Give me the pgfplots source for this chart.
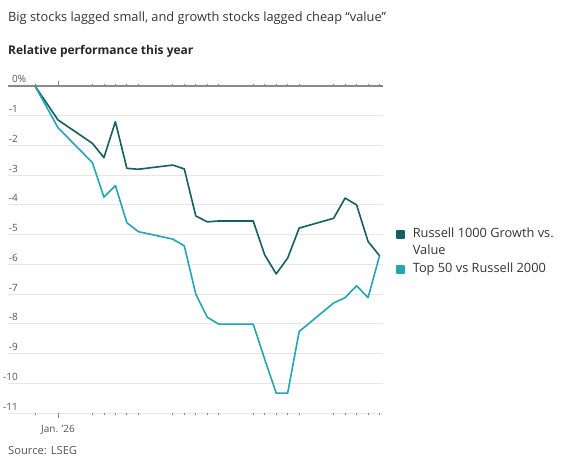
\documentclass[border=0pt]{standalone}
\usepackage{pgfplots}
\pgfplotsset{compat=1.18}
\usepackage{fontspec}
\setmainfont{Open Sans}
\definecolor{darkteal}{HTML}{135F61}
\definecolor{lightteal}{HTML}{22A6B5}
\definecolor{gridgray}{HTML}{E6E6E6}
\definecolor{zerogray}{HTML}{8A8A8A}
\definecolor{txtgray}{HTML}{555555}
\definecolor{titlegray}{HTML}{333333}
\begin{document}
\begin{tikzpicture}
\useasboundingbox (-8pt,-48pt) rectangle (554pt,413pt);
\begin{axis}[
  at={(0pt,0pt)}, anchor=south west,
  scale only axis, width=375pt, height=327pt,
  xmin=-2.35, xmax=30.3, ymin=-11, ymax=0,
  axis line style={draw=none},
  clip=false,
  ytick={-11,-10,-9,-8,-7,-6,-5,-4,-3,-2,-1},
  yticklabels={-11,-10,-9,-8,-7,-6,-5,-4,-3,-2,-1},
  extra y ticks={0},
  extra y tick labels={0\rlap{\%}},
  extra y tick style={grid style={color=zerogray, line width=1.1pt}},
  ymajorgrids, grid style={color=gridgray, line width=0.9pt},
  ytick style={draw=none},
  yticklabel style={anchor=base east, inner sep=0pt, xshift=15pt, yshift=3pt, font=\fontsize{10}{12}\selectfont, text=txtgray},
  xtick={2}, xticklabels={Jan. '26},
  minor xtick={0,5,6,7,8,9,12,13,14,15,16,19,20,21,22,23,26,27,28,29,30},
  tick align=outside,
  major tick length=5pt, minor tick length=2pt,
  xtick style={draw=gray, line width=0.8pt},
  xticklabel style={anchor=base, inner sep=0pt, yshift=-14pt, font=\fontsize{10}{12}\selectfont, text=txtgray},
  legend style={at={(rel axis cs:1.0347,0.5665)}, anchor=north west, draw=none, fill=none, inner sep=0pt,
    font=\fontsize{12.8}{16}\selectfont, text=titlegray,
    nodes={inner sep=0pt, anchor=base west}, column sep=8pt, row sep=5.5pt},
  legend cell align=left,
  legend image code/.code={\fill[#1] (0pt,-0.5pt) rectangle (7pt,6.5pt);},
]
\addplot[darkteal, line width=1.6pt, line join=round] coordinates {
(0,0) (2,-1.14) (5,-1.93) (6,-2.41) (7,-1.20) (8,-2.77) (9,-2.80) (12,-2.66) (13,-2.79)
(14,-4.37) (15,-4.57) (16,-4.54) (19,-4.54) (20,-5.68) (21,-6.32) (22,-5.79) (23,-4.78)
(26,-4.45) (27,-3.77) (28,-4.00) (29,-5.23) (30,-5.71)
};
\addlegendentry{Russell 1000 Growth vs.}
\addlegendimage{empty legend}
\addlegendentry{\raisebox{1.5pt}{Value}}
\addplot[lightteal, line width=1.6pt, line join=round] coordinates {
(0,0) (2,-1.40) (5,-2.58) (6,-3.74) (7,-3.35) (8,-4.60) (9,-4.90) (12,-5.15) (13,-5.38)
(14,-7.00) (15,-7.78) (16,-8.01) (19,-8.01) (20,-9.19) (21,-10.33) (22,-10.33) (23,-8.26)
(26,-7.30) (27,-7.12) (28,-6.72) (29,-7.12) (30,-5.71)
};
\addlegendentry{Top 50 vs Russell 2000}
\end{axis}
\node[anchor=base west, inner sep=0pt, text=titlegray, font=\fontsize{12.8}{14}\selectfont] at (0pt,391.3pt) {Big stocks lagged small, and growth stocks lagged cheap “value”};
\node[anchor=base west, inner sep=0pt, text=black!85, font=\bfseries\fontsize{12}{14}\selectfont] at (0pt,358pt) {Relative performance this year};
\node[anchor=base west, inner sep=0pt, text=txtgray, font=\fontsize{11.2}{12}\selectfont] at (0pt,-41.3pt) {Source: LSEG};
\end{tikzpicture}
\end{document}
